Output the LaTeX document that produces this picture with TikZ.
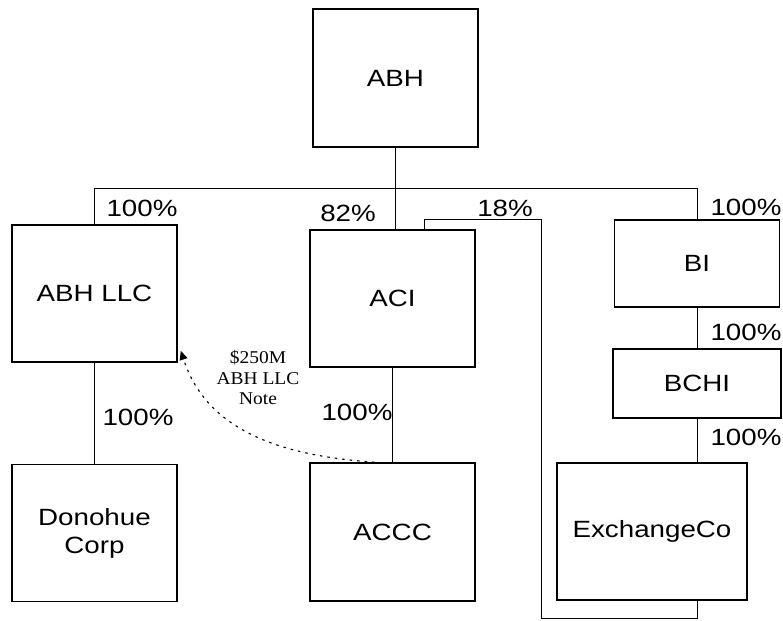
\documentclass[tikz,border=0pt]{standalone}
\usepackage{fontspec}
\setmainfont{Liberation Sans}[FakeStretch=1.18]
\newfontfamily\notefont{Liberation Serif}[FakeStretch=1.08]
\usetikzlibrary{arrows.meta}
\tikzset{
  entity/.style={draw, line width=1.6pt, minimum width=165pt, minimum height=137pt,
    inner sep=0pt, align=center, font=\fontsize{23.5}{28}\selectfont},
  share/.style={font=\fontsize{23.5}{28}\selectfont, inner sep=0pt},
  link/.style={line width=0.8pt},
  note/.style={line width=1.1pt, dash pattern=on 2.5pt off 5pt, -{Triangle[length=9pt,width=8pt]}}
}
\begin{document}
\begin{tikzpicture}[x=1pt,y=-1pt]
\useasboundingbox (0,0) rectangle (783,620);
\node[entity, minimum height=138pt] (ABH) at (395.5, 78) {ABH};
\node[entity] (ABH_LLC) at (94.5, 293.5) {ABH LLC};
\node[entity] (ACI) at (392.5, 298.5) {ACI};
\node[entity, minimum height=87pt] (BI) at (697, 263.5) {BI};
\node[entity, minimum width=168pt, minimum height=69pt] (BCHI) at (697, 383.5) {BCHI};
\node[entity] (Donohue_Corp) at (94.5, 533) {Donohue\\Corp};
\node[entity, minimum height=138pt] (ACCC) at (392.5, 532) {ACCC};
\node[entity, minimum width=190pt] (ExchangeCo) at (652, 531.5) {ExchangeCo};
\coordinate (bus) at (0, 188);
\coordinate (top_18) at (424, 219);
\coordinate (loop_top) at (541, 219);
\coordinate (loop_bottom) at (541, 618);
% ownership lines
\draw[link] (ABH.south) -- (ABH.south |- ACI.north);
\draw[link] (ABH_LLC.north) |- (BI.north |- bus) -- (BI.north);
\draw[link] (ABH_LLC.south) -- (Donohue_Corp.north);
\draw[link] (ACI.south) -- (ACCC.north);
\draw[link] (BI.south) -- (BCHI.north);
\draw[link] (BCHI.south) -- (BCHI.south |- ExchangeCo.north);
\draw[link] (top_18 |- ACI.north) -- (top_18) -- (loop_top) -- (loop_bottom) -| (BCHI.south |- ExchangeCo.south);
% note
\draw[note] ([xshift=-18pt]ACCC.north) to[out=176, in=-72] ([xshift=3pt, yshift=12pt]ABH_LLC.south east);
\node[align=center, font=\notefont\fontsize{18}{20.5}\selectfont, inner sep=0pt] (note_text) at (258, 378) {\$250M\\ABH LLC\\Note};
% percentages
\node[share] (p_abh_llc) at (142, 208) {100\%};
\node[share] (p_aci) at (348, 213) {82\%};
\node[share] (p_18) at (505, 208) {18\%};
\node[share] (p_bi) at (746, 207) {100\%};
\node[share] (p_bchi) at (746, 332) {100\%};
\node[share] (p_exchangeco) at (746, 437) {100\%};
\node[share] (p_donohue) at (138, 417) {100\%};
\node[share] (p_accc) at (357, 412) {100\%};
\end{tikzpicture}
\end{document}
